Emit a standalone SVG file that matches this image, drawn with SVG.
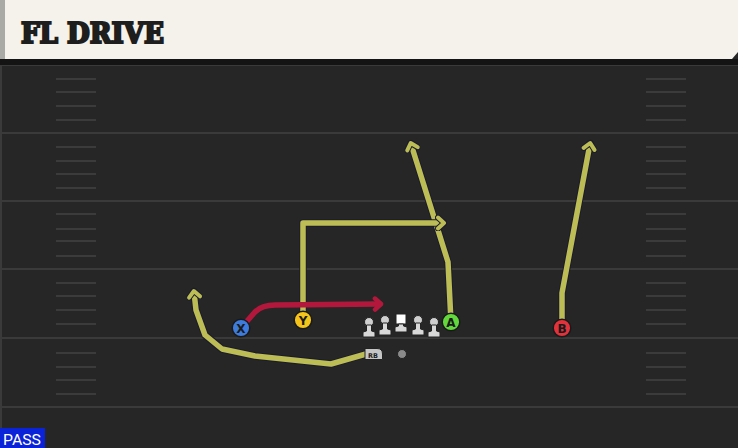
<svg xmlns="http://www.w3.org/2000/svg" width="738" height="448" viewBox="0 0 738 448">
<defs>
<style>
.yl{stroke:#1c1c30;stroke-width:7.5;fill:none;stroke-linejoin:round;stroke-linecap:round}
.rt{stroke:#bdbd55;stroke-width:5.5;fill:none;stroke-linejoin:round;stroke-linecap:round}
.red{stroke:#b3183c;stroke-width:5.5;fill:none;stroke-linejoin:round;stroke-linecap:round}
.fl{stroke:#3a3a3a;stroke-width:2}
.hm{stroke:#3b3b3b;stroke-width:2}
.pl{stroke:#1a1a1a;stroke-width:1.5}
.lbl{font-family:"DejaVu Sans","Liberation Sans",sans-serif;font-weight:bold;font-size:12px;fill:#1a1a1a;text-anchor:middle}
</style>
<marker id="ay" viewBox="-8 -8 16 16" markerWidth="16" markerHeight="16" refX="0" refY="0" orient="auto" markerUnits="userSpaceOnUse">
<polyline points="-5,-5.5 1,0 -5,5.5" fill="none" stroke="#1c1c30" stroke-width="6" stroke-linecap="round" stroke-linejoin="round"/>
<polyline points="-5,-5.5 1,0 -5,5.5" fill="none" stroke="#bdbd55" stroke-width="4" stroke-linecap="round" stroke-linejoin="round"/>
</marker>
<marker id="ar" viewBox="-8 -8 16 16" markerWidth="16" markerHeight="16" refX="0" refY="0" orient="auto" markerUnits="userSpaceOnUse">
<polyline points="-5,-5.5 1,0 -5,5.5" fill="none" stroke="#b3183c" stroke-width="4.5" stroke-linecap="round" stroke-linejoin="round"/>
</marker>
<g id="lineman">
<circle cx="0" cy="-5" r="4.5" fill="#cfcfcf" stroke="#222" stroke-width="1"/>
<path d="M-2.5,-2 L2.5,-2 L2.5,4 L6,5 L6,10 L-6,10 L-6,5 L-2.5,4 Z" fill="#d8d8d8" stroke="#222" stroke-width="1"/>
</g>
</defs>
<rect width="738" height="448" fill="#262626"/>
<rect x="0" y="60" width="2" height="388" fill="#3a3a3a"/>
<g id="field">
<line class="fl" x1="0" y1="65" x2="738" y2="65"/>
<line class="fl" x1="0" y1="133" x2="738" y2="133"/>
<line class="fl" x1="0" y1="201" x2="738" y2="201"/>
<line class="fl" x1="0" y1="269" x2="738" y2="269"/>
<line class="fl" x1="0" y1="338" x2="738" y2="338"/>
<line class="fl" x1="0" y1="407" x2="738" y2="407"/>
<g class="hm">
<line x1="56" y1="79" x2="96" y2="79"/><line x1="56" y1="92" x2="96" y2="92"/><line x1="56" y1="106" x2="96" y2="106"/><line x1="56" y1="120" x2="96" y2="120"/>
<line x1="56" y1="147" x2="96" y2="147"/><line x1="56" y1="161" x2="96" y2="161"/><line x1="56" y1="174" x2="96" y2="174"/><line x1="56" y1="188" x2="96" y2="188"/>
<line x1="56" y1="214" x2="96" y2="214"/><line x1="56" y1="229" x2="96" y2="229"/><line x1="56" y1="241" x2="96" y2="241"/><line x1="56" y1="256" x2="96" y2="256"/>
<line x1="56" y1="283" x2="96" y2="283"/><line x1="56" y1="296" x2="96" y2="296"/><line x1="56" y1="310" x2="96" y2="310"/><line x1="56" y1="324" x2="96" y2="324"/>
<line x1="56" y1="353" x2="96" y2="353"/><line x1="56" y1="367" x2="96" y2="367"/><line x1="56" y1="380" x2="96" y2="380"/><line x1="56" y1="394" x2="96" y2="394"/>
<line x1="646" y1="79" x2="686" y2="79"/><line x1="646" y1="92" x2="686" y2="92"/><line x1="646" y1="106" x2="686" y2="106"/><line x1="646" y1="120" x2="686" y2="120"/>
<line x1="646" y1="147" x2="686" y2="147"/><line x1="646" y1="161" x2="686" y2="161"/><line x1="646" y1="174" x2="686" y2="174"/><line x1="646" y1="188" x2="686" y2="188"/>
<line x1="646" y1="214" x2="686" y2="214"/><line x1="646" y1="229" x2="686" y2="229"/><line x1="646" y1="241" x2="686" y2="241"/><line x1="646" y1="256" x2="686" y2="256"/>
<line x1="646" y1="283" x2="686" y2="283"/><line x1="646" y1="296" x2="686" y2="296"/><line x1="646" y1="310" x2="686" y2="310"/><line x1="646" y1="324" x2="686" y2="324"/>
<line x1="646" y1="353" x2="686" y2="353"/><line x1="646" y1="367" x2="686" y2="367"/><line x1="646" y1="380" x2="686" y2="380"/><line x1="646" y1="394" x2="686" y2="394"/>
</g>
</g>
<g id="header">
<rect x="0" y="59" width="738" height="6" fill="#141414"/>
<path d="M0,0 H738 V52 L732,59 H0 Z" fill="#f4f2eb"/>
<rect x="0" y="0" width="5" height="59" fill="#a9aaa6"/>
<text x="21" y="43" font-family="DejaVu Serif, Liberation Serif, serif" font-weight="900" font-size="27" fill="#1e1e1e" stroke="#1e1e1e" stroke-width="2.2" stroke-linejoin="miter" textLength="143" lengthAdjust="spacingAndGlyphs">FL DRIVE</text>
</g>
<g id="connectors">
<polyline class="yl" points="451,322 448,262 411,144"/>
<polyline class="rt" points="451,322 448,262 411,144" marker-end="url(#ay)"/>
<polyline class="yl" points="303,320 303,223 443,223"/>
<polyline class="rt" points="303,320 303,223 443,223" marker-end="url(#ay)"/>
<polyline class="yl" points="562,328 562,293 590,144"/>
<polyline class="rt" points="562,328 562,293 590,144" marker-end="url(#ay)"/>
<polyline class="yl" points="366,354 331,364 255,356 222,349 205,335 196,310 194,292"/>
<polyline class="rt" points="366,354 331,364 255,356 222,349 205,335 196,310 194,292" marker-end="url(#ay)"/>
<path class="red" d="M241,328 L255,312 Q262,305 275,305 L380,304" marker-end="url(#ar)"/>
</g>
<g id="X"><circle cx="241" cy="328" r="8.8" fill="#3d7bdc" class="pl"/><text class="lbl" x="241" y="332.5">X</text></g>
<g id="Y"><circle cx="303" cy="320" r="8.8" fill="#f5c41a" class="pl"/><text class="lbl" x="303" y="324.5">Y</text></g>
<g id="A"><circle cx="451" cy="322" r="8.8" fill="#62d83c" class="pl"/><text class="lbl" x="451" y="326.5">A</text></g>
<g id="B"><circle cx="562" cy="328" r="8.8" fill="#e2323c" class="pl"/><text class="lbl" x="562" y="332.5">B</text></g>
<g id="LT"><use href="#lineman" x="369" y="327"/></g>
<g id="LG"><use href="#lineman" x="385" y="325"/></g>
<g id="C">
<rect x="396" y="314" width="10" height="10" fill="#ffffff" stroke="#222" stroke-width="1"/>
<path d="M398.5,324 L403.5,324 L403.5,326 L407,327 L407,332 L395,332 L395,327 L398.5,326 Z" fill="#d8d8d8" stroke="#222" stroke-width="1"/>
</g>
<g id="RG"><use href="#lineman" x="418" y="325"/></g>
<g id="RT"><use href="#lineman" x="434" y="327"/></g>
<g id="RB">
<path d="M365,348.5 H377 Q382.5,348.5 382.5,354 V359.5 H365 Z" fill="#c6c6c6" stroke="#222" stroke-width="1"/>
<text x="373" y="357.5" font-family="DejaVu Sans, sans-serif" font-size="6.5" font-weight="bold" fill="#222" text-anchor="middle">RB</text>
</g>
<g id="QB"><circle cx="402" cy="354" r="4.5" fill="#8a8a8a" stroke="#222" stroke-width="1"/></g>
<g id="pass">
<rect x="0" y="428" width="45" height="20" fill="#0a22d8"/>
<text x="3" y="445" font-family="Roboto, Liberation Sans, sans-serif" font-size="15" fill="#ffffff" textLength="38" lengthAdjust="spacingAndGlyphs">PASS</text>
</g>
</svg>
